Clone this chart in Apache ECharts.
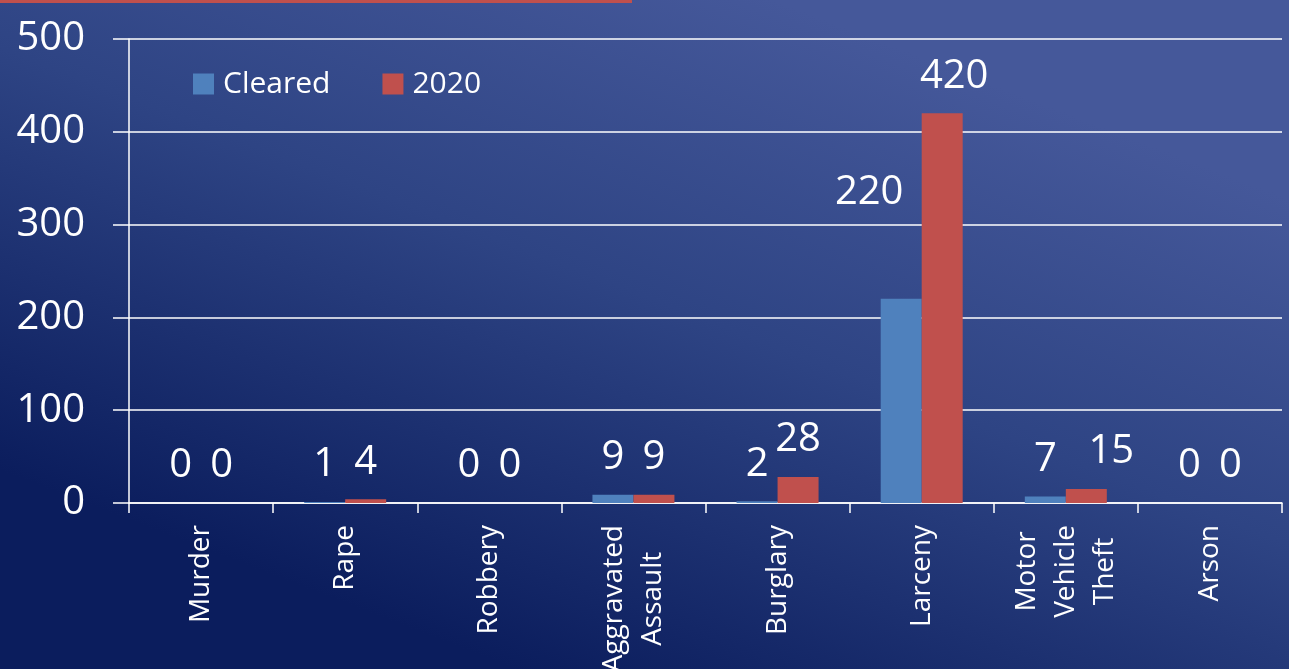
<!DOCTYPE html>
<html>
<head>
<meta charset="utf-8">
<title>Cleared vs 2020</title>
<script src="https://cdn.jsdelivr.net/npm/echarts@6/dist/echarts.min.js"></script>
<style>
  html, body { margin: 0; padding: 0; width: 1289px; height: 669px; overflow: hidden; }
  #chart { width: 1289px; height: 669px; }
</style>
</head>
<body>
<div id="chart"></div>
<script>
// Offense categories along the x axis
const categories = ['Murder', 'Rape', 'Robbery', 'Aggravated\nAssault', 'Burglary', 'Larceny', 'Motor\nVehicle\nTheft', 'Arson'];
// Counts per offense
const clearedValues = [0, 1, 0, 9, 2, 220, 7, 0];
const year2020Values = [0, 4, 0, 9, 28, 420, 15, 0];
// Value axis ticks
const yTicks = [0, 100, 200, 300, 400, 500];

// Hand-placed label nudges (x, y in px) for a few crowded labels
const clearedLabelNudge = { 'Larceny': [-32, -69] };
const year2020LabelNudge = { 'Larceny': [12, 0], 'Motor\nVehicle\nTheft': [25, 0] };

const FONT = '"Open Sans", "Noto Sans", sans-serif';
const WHITE = '#ffffff';

function buildSeriesData(values, nudges) {
  return values.map((v, i) => {
    const off = nudges[categories[i]];
    return off ? { value: v, label: { offset: off } } : v;
  });
}

const chart = echarts.init(document.getElementById('chart'), null, { renderer: 'canvas' });

chart.setOption({
  animation: false,
  backgroundColor: {
    type: 'linear', x: 0.6, y: 0, x2: 0.4, y2: 1,
    colorStops: [
      { offset: 0, color: '#45589a' },
      { offset: 0.45, color: '#2e4484' },
      { offset: 1, color: '#0b1d5d' }
    ]
  },
  textStyle: { fontFamily: FONT },
  graphic: [{
    type: 'rect', left: 0, top: 0,
    shape: { width: 632, height: 3 },
    style: { fill: '#c0504d' }
  }],
  legend: {
    left: 188, top: 64,
    icon: 'rect',
    itemWidth: 21, itemHeight: 21,
    itemGap: 52,
    textStyle: { color: WHITE, fontSize: 30, fontFamily: FONT, padding: [0, 0, 0, 4] },
    data: ['Cleared', '2020']
  },
  grid: { left: 129, right: 7, top: 39, bottom: 166, containLabel: false, outerBoundsMode: 'none' },
  xAxis: {
    type: 'category',
    data: categories,
    boundaryGap: true,
    axisLine: { show: true, lineStyle: { color: WHITE, width: 1.5 } },
    axisTick: { show: true, length: 10, alignWithLabel: false, interval: 0, lineStyle: { color: WHITE, width: 1.5 } },
    axisLabel: {
      interval: 0,
      rotate: 90,
      margin: 22,
      color: WHITE,
      fontFamily: FONT,
      fontSize: 28,
      lineHeight: 39,
      formatter: v => v.split('\n').map(s => '{c|' + s + '}').join('\n'),
      rich: { c: { align: 'center', color: WHITE, fontSize: 28, lineHeight: 39, fontFamily: FONT } }
    }
  },
  yAxis: {
    type: 'value',
    min: yTicks[0],
    max: yTicks[yTicks.length - 1],
    interval: yTicks[1] - yTicks[0],
    axisLine: { show: true, lineStyle: { color: WHITE, width: 1.5 } },
    axisTick: { show: true, length: 16, lineStyle: { color: WHITE, width: 1.5 } },
    axisLabel: { color: WHITE, fontSize: 40, fontFamily: FONT, margin: 44 },
    splitLine: { show: true, lineStyle: { color: WHITE, width: 1.5 } }
  },
  series: [
    {
      name: 'Cleared',
      type: 'bar',
      barWidth: 41,
      barGap: '0%',
      itemStyle: { color: '#4f81bd' },
      label: { show: true, position: 'top', distance: 17, color: WHITE, fontSize: 40, fontFamily: FONT },
      data: buildSeriesData(clearedValues, clearedLabelNudge)
    },
    {
      name: '2020',
      type: 'bar',
      barWidth: 41,
      barGap: '0%',
      itemStyle: { color: '#c0504d' },
      label: { show: true, position: 'top', distance: 17, color: WHITE, fontSize: 40, fontFamily: FONT },
      data: buildSeriesData(year2020Values, year2020LabelNudge)
    }
  ]
});
</script>
</body>
</html>
